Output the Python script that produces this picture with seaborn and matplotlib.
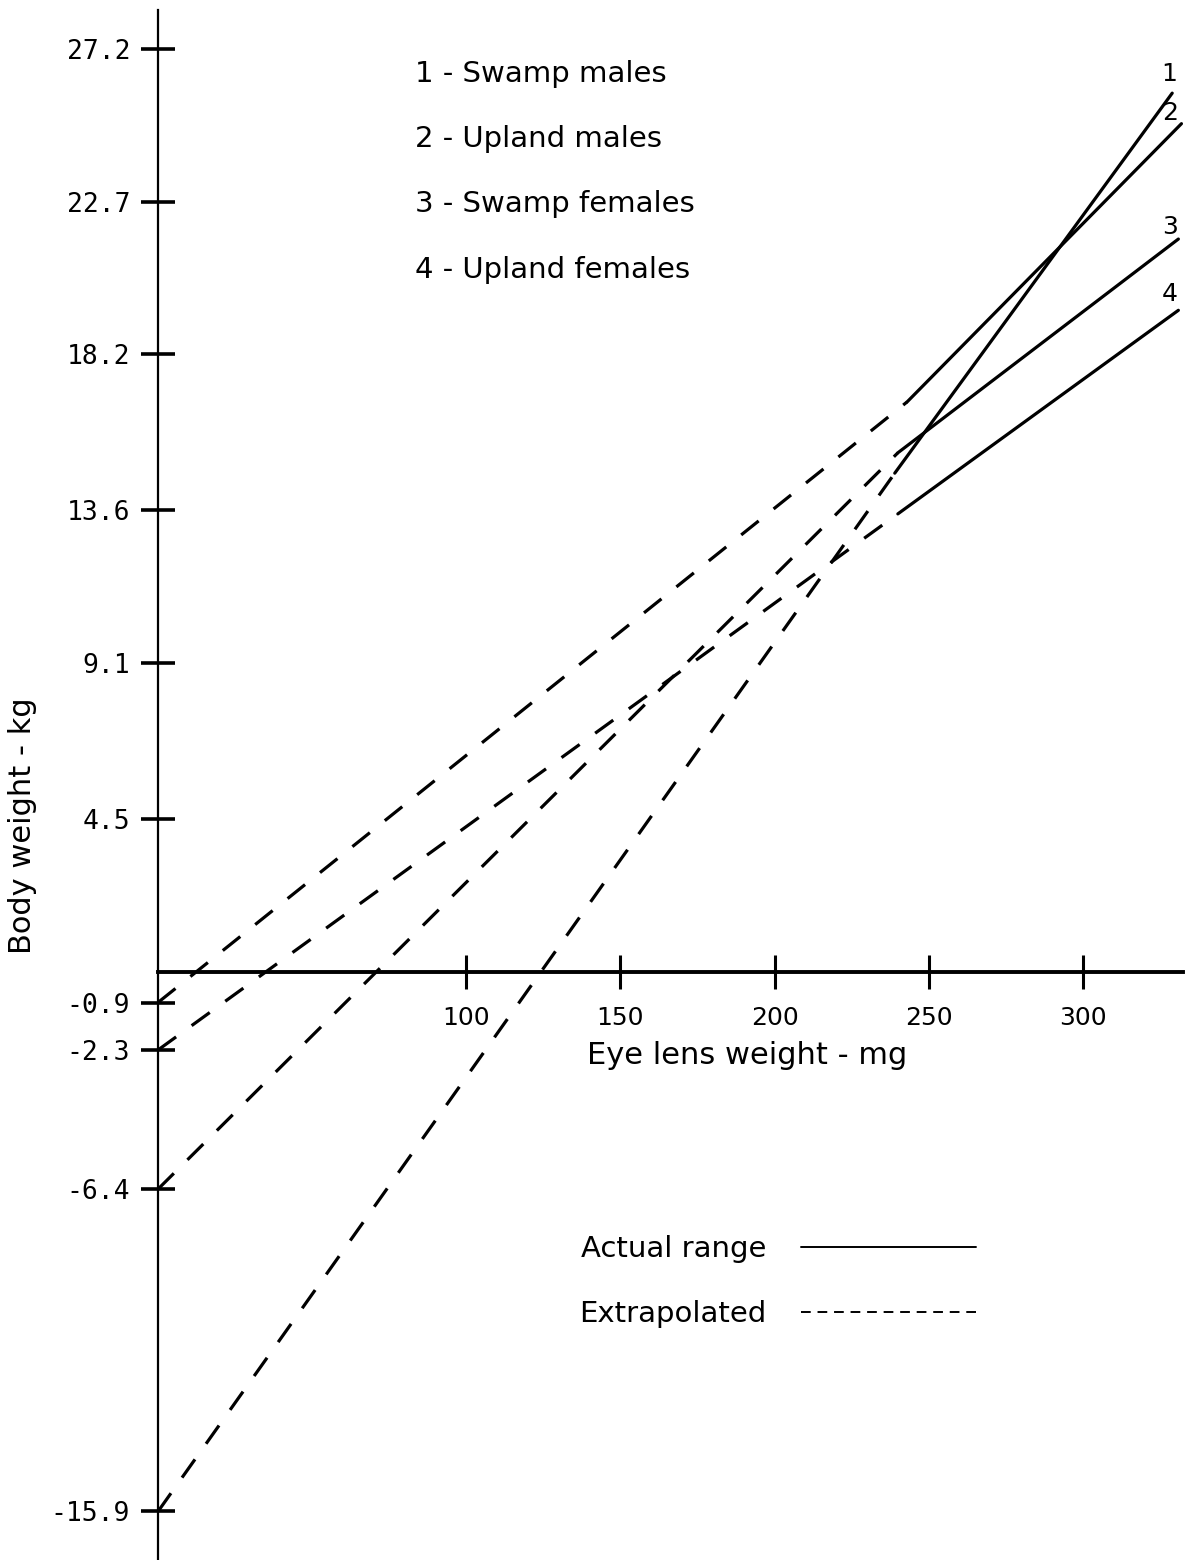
import pandas as pd
import seaborn as sns
import matplotlib.pyplot as plt
from matplotlib.lines import Line2D

# regression lines: body weight (kg) vs eye lens weight (mg)
line_ids = ["1", "2", "3", "4"]
line_names = ["Swamp males", "Upland males", "Swamp females", "Upland females"]
intercepts = [-15.9, -0.9, -6.4, -2.3]
x_start = [239, 243, 240, 240]     # start of actual range
y_start = [14.7, 16.8, 15.3, 13.5]
x_end = [329, 332, 331, 331]       # end of actual range
y_end = [25.9, 25.0, 21.6, 19.5]

y_ticks = [27.2, 22.7, 18.2, 13.6, 9.1, 4.5, -0.9, -2.3, -6.4, -15.9]
x_ticks = [100, 150, 200, 250, 300]

rows = []
for i, lid in enumerate(line_ids):
    rows.append((lid, "Extrapolated", 0, intercepts[i]))
    rows.append((lid, "Extrapolated", x_start[i], y_start[i]))
    rows.append((lid, "Actual", x_start[i], y_start[i]))
    rows.append((lid, "Actual", x_end[i], y_end[i]))
df = pd.DataFrame(rows, columns=["line", "range", "x", "y"])

sns.set_style("white")
plt.rcParams["font.family"] = ["DejaVu Sans"]
plt.rcParams["text.color"] = "black"
plt.rcParams["axes.labelcolor"] = "black"
plt.rcParams["xtick.color"] = "black"
plt.rcParams["ytick.color"] = "black"

fig = plt.figure(figsize=(11.89, 15.6), dpi=100)
ax = fig.add_axes([158 / 1189, 0, 1025 / 1189, 1550 / 1560])

sns.lineplot(
    data=df, x="x", y="y", units="line", style="range",
    estimator=None, sort=False, color="black", linewidth=2.3,
    dashes={"Extrapolated": (7, 6), "Actual": ""},
    legend=False, ax=ax
)

ax.set_xlim(0, 332.5)
ax.set_ylim(-17.33, 28.35)

# axes cross at the origin
ax.spines["left"].set_position(("data", 0))
ax.spines["bottom"].set_position(("data", 0))
ax.spines["top"].set_visible(False)
ax.spines["right"].set_visible(False)
ax.spines["left"].set_linewidth(1.6)
ax.spines["bottom"].set_linewidth(2.8)
ax.spines["left"].set_color("black")
ax.spines["bottom"].set_color("black")

ax.set_yticks(y_ticks)
ax.set_yticklabels([f"{v:.1f}" for v in y_ticks])
ax.set_xticks(x_ticks)
ax.set_xticklabels([str(v) for v in x_ticks])
ax.tick_params(axis="y", direction="inout", length=24, width=2.6, pad=8,
               labelsize=19, labelfontfamily="DejaVu Sans Mono", left=True)
ax.tick_params(axis="x", direction="inout", length=25, width=2.2, pad=12,
               labelsize=18, bottom=True)

ax.set_xlabel("Eye lens weight - mg", fontsize=22)
ax.xaxis.set_label_coords(0.5746, 0.335)
ax.set_ylabel("Body weight - kg", fontsize=22)
ax.yaxis.set_label_coords(-0.118, 0.474)

# numbers at line ends
label_offsets = [(-2, 5), (-8, -1), (-6, 0), (-6, 3)]
for i, lid in enumerate(line_ids):
    ax.annotate(lid, (x_end[i], y_end[i]), xytext=label_offsets[i],
                textcoords="offset points", ha="center", va="bottom",
                fontsize=18)

# key to line numbers
key_y = [0.9587, 0.9168, 0.8748, 0.8323]
for i, lid in enumerate(line_ids):
    ax.text(0.2507, key_y[i], f"{lid} - {line_names[i]}", transform=ax.transAxes,
            ha="left", va="center", fontsize=21)

handles = [Line2D([], [], color="black", linewidth=1.4),
           Line2D([], [], color="black", linewidth=1.4, dashes=(5, 3.5))]
ax.legend(handles, ["Actual range", "Extrapolated"], markerfirst=False,
          frameon=False, loc="upper left", bbox_to_anchor=(0.399, 0.217),
          fontsize=21, handlelength=6.0, handletextpad=1.2, labelspacing=1.25,
          borderaxespad=0)

fig.savefig("out.png", dpi=100)
